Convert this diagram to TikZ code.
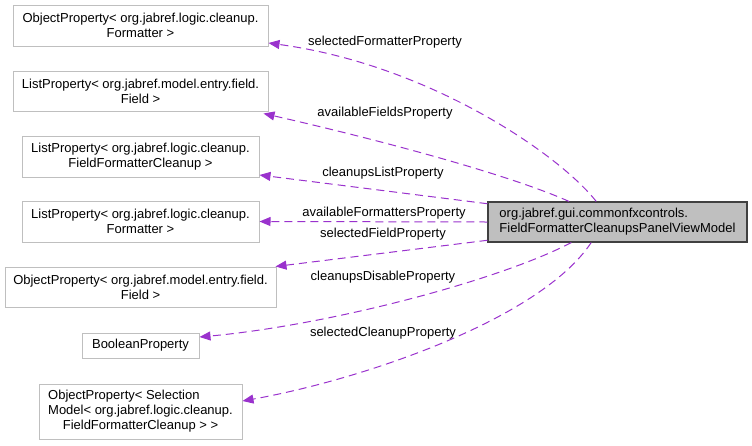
\documentclass[tikz,border=0pt]{standalone}
\usepackage{fontspec}
\setmainfont{Liberation Sans}
\usetikzlibrary{arrows.meta}
\definecolor{edgepurple}{HTML}{9A32CD}
\definecolor{boxgray}{HTML}{BFBFBF}
\definecolor{mainline}{HTML}{404040}

\begin{document}
\begin{tikzpicture}[x=1pt, y=-1pt,
  every node/.style={font=\fontsize{13}{15}\selectfont, inner sep=0pt},
  classbox/.style={draw=boxgray, line width=1pt, rectangle, align=center},
  mainbox/.style={draw=mainline, fill=boxgray, line width=1.1pt, rectangle, align=left,
    minimum width=259pt, minimum height=40pt},
  dep/.style={edgepurple, line width=1pt, dash pattern=on 8pt off 5pt,
    -{Triangle[length=11pt,width=9pt]}},
  lbl/.style={text=black}]
\useasboundingbox (0,0) rectangle (752,445);
% class under study
\node[mainbox] (main) at (617.5,222) {org.jabref.gui.commonfxcontrols.\\FieldFormatterCleanupsPanelViewModel};

% member types
\node[classbox, minimum width=255pt, minimum height=41pt] (n1) at (140.5,25.5) {ObjectProperty< org.jabref.logic.cleanup.\\Formatter >};
\node[classbox, minimum width=255pt, minimum height=40pt] (n2) at (140.5,91) {ListProperty< org.jabref.model.entry.field.\\Field >};
\node[classbox, minimum width=237pt, minimum height=41pt] (n3) at (140.5,156.5) {ListProperty< org.jabref.logic.cleanup.\\FieldFormatterCleanup >};
\node[classbox, minimum width=237pt, minimum height=41pt] (n4) at (140.5,221.5) {ListProperty< org.jabref.logic.cleanup.\\Formatter >};
\node[classbox, minimum width=271pt, minimum height=40pt] (n5) at (140.5,287) {ObjectProperty< org.jabref.model.entry.field.\\Field >};
\node[classbox, minimum width=117pt, minimum height=25pt] (n6) at (140.5,345.5) {BooleanProperty};
\node[classbox, minimum width=203pt, minimum height=55pt] (n7) at (140.5,411.5) {\begin{tabular}{@{}l@{}}ObjectProperty< Selection\\Model< org.jabref.logic.cleanup.\\\multicolumn{1}{@{}c@{}}{FieldFormatterCleanup > >}\end{tabular}};

% member names
\node[lbl] (l1) at (385,42) {selectedFormatterProperty};
\node[lbl] (l2) at (385,113) {availableFieldsProperty};
\node[lbl] (l3) at (383,173) {cleanupsListProperty};
\node[lbl] (l4) at (384,213) {availableFormattersProperty};
\node[lbl] (l5) at (383,234) {selectedFieldProperty};
\node[lbl] (l6) at (383,277) {cleanupsDisableProperty};
\node[lbl] (l7) at (383,333) {selectedCleanupProperty};

% usage relations
\draw[dep] (main.136) .. controls (560,155) and (430,65) .. ([yshift=-17.5pt]n1.east);
\draw[dep] (main.157) .. controls (510,175) and (380,140) .. ([xshift=-5pt,yshift=-2pt]n2.south east);
\draw[dep] (main.172) -- ([yshift=-18.5pt]n3.east);
\draw[dep] (main.west) -- (n4.east);
\draw[dep] (main.188) -- ([xshift=-1pt]n5.north east);
\draw[dep] (main.204) .. controls (500,280) and (330,325) .. ([yshift=8.5pt]n6.east);
\draw[dep] (main.218) .. controls (540,320) and (360,380) .. ([yshift=10.5pt]n7.east);
\end{tikzpicture}
\end{document}
